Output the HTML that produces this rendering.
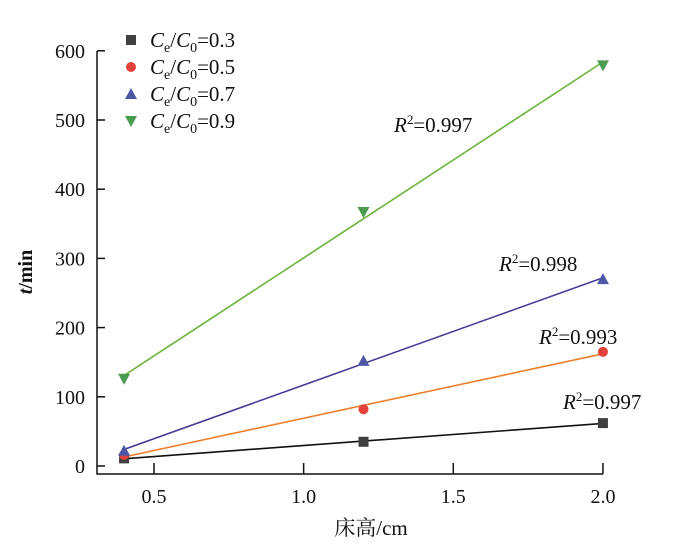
<!DOCTYPE html>
<html><head><meta charset="utf-8"><style>
body{margin:0;background:#fff}
svg text{font-family:"Liberation Serif","Noto Serif CJK SC",serif;fill:#111}
</style></head><body>
<svg id="c" width="700" height="548"></svg>
<script>
const xVals=[0.4,1.2,2.0];
const s03=[11,35,62];
const s05=[16,82,165];
const s07=[22,152,270];
const s09=[126,367,579];
const xTicks=[0.5,1.0,1.5,2.0];
const xTickLabels=["0.5","1.0","1.5","2.0"];
const yTicks=[0,100,200,300,400,500,600];
const r2Labels=["0.997","0.993","0.998","0.997"];
const legendLabels=["0.3","0.5","0.7","0.9"];

const NS="http://www.w3.org/2000/svg";
const svg=document.getElementById('c');
function X(v){return 154+(v-0.5)*299.3;}
function Y(v){return 466-v*0.692;}
function mk(t,a,p){const e=document.createElementNS(NS,t);for(const k in a)e.setAttribute(k,a[k]);(p||svg).appendChild(e);return e;}

let ax=mk('path',{d:'M97,51 V474 H603',fill:'none',stroke:'#111','stroke-width':1.5});


yTicks.forEach(v=>{
  const t=mk('line',{x1:97,x2:105,y1:Y(v),y2:Y(v),stroke:'#111','stroke-width':1.5});
  
  
  const l=mk('text',{x:85,y:Y(v)+7,'text-anchor':'end','font-size':20});
  l.textContent=v;
  
  
});
xTicks.forEach((v,i)=>{
  const t=mk('line',{x1:X(v),x2:X(v),y1:474,y2:463,stroke:'#111','stroke-width':1.5});
  
  
  const l=mk('text',{x:X(v),y:503,'text-anchor':'middle','font-size':20});
  l.textContent=xTickLabels[i];
  
  
});
let xt=mk('text',{x:371,y:535,'text-anchor':'middle','font-size':21});
xt.innerHTML='床高/cm';


let yt=mk('text',{x:0,y:0,transform:'translate(32,272) rotate(-90)','text-anchor':'middle','font-size':20,'font-weight':'bold'});
yt.innerHTML='<tspan font-style="italic">t</tspan>/min';



const series=[
 {d:s03,m:'sq',mc:'#3f3f3f',lc:'#111',r:[563,409]},
 {d:s05,m:'ci',mc:'#e2403a',lc:'#f07f2a',r:[539,344]},
 {d:s07,m:'up',mc:'#4d57a6',lc:'#463c96',r:[499,271]},
 {d:s09,m:'dn',mc:'#4a9a50',lc:'#6cb33c',r:[394,132]}
];
function marker(type,x,y,c,name){
  let e;
  if(type==='sq')e=mk('rect',{x:x-5,y:y-5,width:10,height:10,fill:c});
  else if(type==='ci')e=mk('circle',{cx:x,cy:y,r:5,fill:c});
  else if(type==='up')e=mk('polygon',{points:`${x-6},${y+5} ${x+6},${y+5} ${x},${y-6}`,fill:c});
  else e=mk('polygon',{points:`${x-6},${y-5} ${x+6},${y-5} ${x},${y+6}`,fill:c});
  
  
}
series.forEach((s,si)=>{
  const n=xVals.length;let mx=0,my=0;
  xVals.forEach((x,i)=>{mx+=x/n;my+=s.d[i]/n;});
  let sxy=0,sxx=0;xVals.forEach((x,i)=>{sxy+=(x-mx)*(s.d[i]-my);sxx+=(x-mx)*(x-mx);});
  const b=sxy/sxx,a=my-b*mx;
  const x0=xVals[0],x1=xVals[n-1];
  const ln=mk('line',{x1:X(x0),y1:Y(a+b*x0),x2:X(x1),y2:Y(a+b*x1),stroke:s.lc,'stroke-width':1.6});
  
  
  xVals.forEach((x,i)=>marker(s.m,X(x),Y(s.d[i]),s.mc,'point-'+legendLabels[si]));
  const r=mk('text',{x:s.r[0],y:s.r[1],'font-size':21});
  r.innerHTML='<tspan font-style="italic">R</tspan><tspan font-size="13" dy="-8">2</tspan><tspan dy="8">='+r2Labels[si]+'</tspan>';
  
  
  const ly=40+si*27;
  marker(s.m,131,ly,s.mc,'legend-marker');
  const lt=mk('text',{x:150,y:ly+7,'font-size':21});
  lt.innerHTML='<tspan font-style="italic">C</tspan><tspan font-size="14" dy="5">e</tspan><tspan dy="-5">/</tspan><tspan font-style="italic">C</tspan><tspan font-size="14" dy="5">0</tspan><tspan dy="-5">='+legendLabels[si]+'</tspan>';
  
  
});
</script>
</body></html>
